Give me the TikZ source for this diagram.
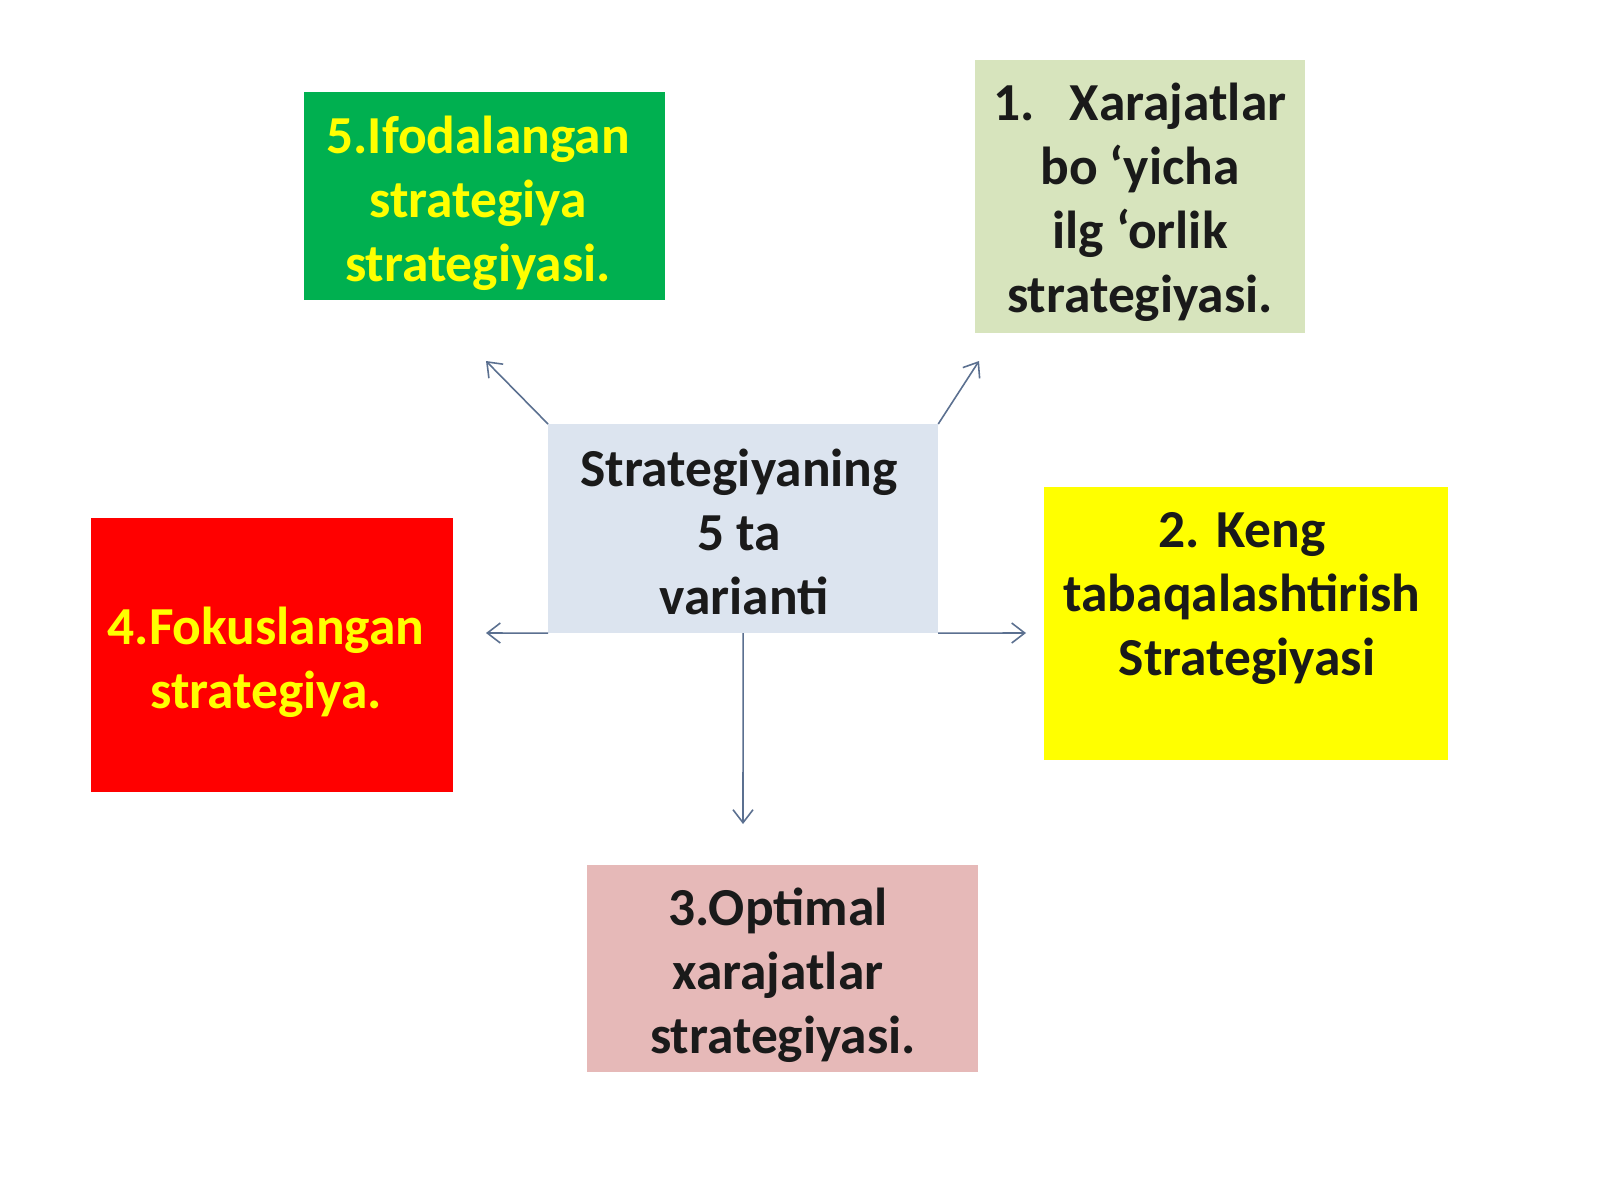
\documentclass[tikz,border=0pt]{standalone}
\usepackage{fontspec}
\setmainfont{Carlito}
\usetikzlibrary{arrows.meta}
\definecolor{cgreen}{HTML}{00B050}
\definecolor{ckhaki}{HTML}{D7E4BD}
\definecolor{ccenter}{HTML}{DCE4EF}
\definecolor{cyellow}{HTML}{FFFF00}
\definecolor{cred}{HTML}{FF0000}
\definecolor{cpink}{HTML}{E6B9B8}
\definecolor{carrow}{HTML}{5B7090}
\definecolor{ctext}{HTML}{1A1A1A}
\tikzset{
  box/.style={draw=none, inner sep=0pt, outer sep=0pt},
  txt/.style={font=\bfseries\fontsize{15.2}{18.2}\selectfont, align=center, inner sep=0pt, text=ctext},
  ytxt/.style={txt, text=cyellow},
  conn/.style={draw=carrow, line width=0.45pt, -{Straight Barb[length=1.3mm,width=2.0mm,line width=0.45pt]}},
}
\begin{document}
\begin{tikzpicture}[x=0.01cm,y=-0.01cm]
\useasboundingbox (0,0) rectangle (1600,1200);
\fill[white] (0,0) rectangle (1600,1200);
% boxes
\node[box, fill=cgreen, minimum width=3.61cm, minimum height=2.08cm, anchor=north west] (b5) at (304,92) {};
\node[box, fill=ckhaki, minimum width=3.30cm, minimum height=2.73cm, anchor=north west] (b1) at (975,60) {};
\node[box, fill=ccenter, minimum width=3.90cm, minimum height=2.09cm, anchor=north west] (c) at (548,424) {};
\node[box, fill=cyellow, minimum width=4.04cm, minimum height=2.73cm, anchor=north west] (b2) at (1044,487) {};
\node[box, fill=cred, minimum width=3.62cm, minimum height=2.74cm, anchor=north west] (b4) at (91,518) {};
\node[box, fill=cpink, minimum width=3.91cm, minimum height=2.07cm, anchor=north west] (b3) at (587,865) {};
% texts
\node[ytxt] (t5) at (478,203) {5.Ifodalangan\\strategiya\\strategiyasi.};
\node[txt] (t1) at (1140,202) {1.\hspace{0.65em}Xarajatlar\\bo ‘yicha\\ilg ‘orlik\\strategiyasi.};
\node[txt] (tc) at (739,532) {Strategiyaning\\5 ta\\\hspace*{0.1cm}varianti};
\node[txt] (t2) at (1242,598) {2. Keng\\tabaqalashtirish\\\hspace*{0.1cm}Strategiyasi};
\node[ytxt] (t4) at (266,662) {4.Fokuslangan\\strategiya.};
\node[txt] (t3) at (778,975) {3.Optimal\\xarajatlar\\\hspace*{0.1cm}strategiyasi.};
% connector end points
\coordinate (e5) at (486,361);
\coordinate (e1) at (979,361);
\coordinate (e4) at (486,633);
\coordinate (e2) at (1026,633);
\coordinate (e3) at (743,824);
\draw[conn] (c.north west) -- (e5);
\draw[conn] (c.north east) -- (e1);
\draw[conn] (c.south west) -- (e4);
\draw[conn] (c.south east) -- (e2);
\draw[conn] (c.south) -- (e3);
\end{tikzpicture}
\end{document}
